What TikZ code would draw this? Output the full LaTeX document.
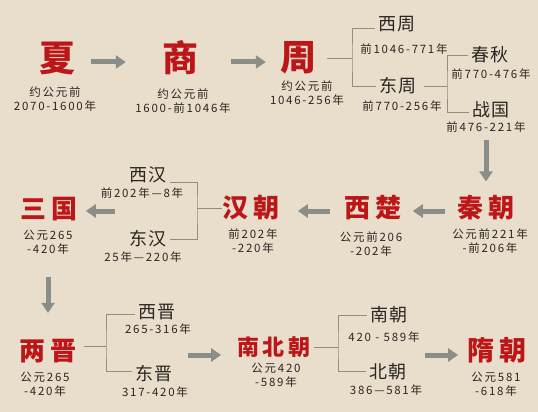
\documentclass[tikz,border=0pt]{standalone}
\usepackage{fontspec}
\usetikzlibrary{arrows.meta}
\newfontfamily\dynfont{Noto Sans CJK SC}
\newfontfamily\brfont[LetterSpace=10]{Noto Sans CJK SC}
\newfontfamily\yrfont[LetterSpace=15]{Noto Sans CJK SC}
\newcommand{\dgap}{\hspace{.2em}}
\definecolor{parchment}{RGB}{233,222,203}
\definecolor{dynred}{RGB}{188,22,24}
\definecolor{ink}{RGB}{42,38,34}
\definecolor{arrowgray}{RGB}{138,142,137}
\definecolor{linegray}{RGB}{150,140,126}

\tikzset{
	dynasty/.style={text=dynred, inner sep=0pt, font=\dynfont\bfseries\fontsize{26}{26}\selectfont},
	bigdyn/.style={dynasty, font=\dynfont\bfseries\fontsize{36}{36}\selectfont},
	branch/.style={text=ink, inner sep=3pt, font=\brfont\fontsize{18}{18}\selectfont},
	years/.style={text=ink, inner sep=0pt, align=center, font=\yrfont\fontsize{11.5}{14.5}\selectfont},
	flow/.style={arrowgray, line width=5pt, -{Triangle[width=13pt,length=10pt]}},
	brline/.style={linegray, line width=0.8pt}
}

\begin{document}
\begin{tikzpicture}[x=1pt,y=-1pt]
	\fill[parchment] (0,0) rectangle (538,412);
	\useasboundingbox (0,0) rectangle (538,412);

	% first row
	\node[bigdyn] (xia) at (57,58) {夏};
	\node[years] (xiayr) at (55,99) {约公元前\\2070-1600年};
	\node[bigdyn] (shang) at (180,58) {商};
	\node[years] (shangyr) at (183,101) {约公元前\\1600-前1046年};
	\node[bigdyn] (zhou) at (298,58) {周};
	\node[years] (zhouyr) at (307,93) {约公元前\\1046-256年};

	\node[branch] (xizhou) at (397,24) {西周};
	\node[years] (xizhouyr) at (404,49) {前1046-771年};
	\node[branch] (dongzhou) at (398,86) {东周};
	\node[years] (dongzhouyr) at (402,106) {前770-256年};
	\node[branch] (chunqiu) at (490,55) {春秋};
	\node[years] (chunqiuyr) at (491,74) {前770-476年};
	\node[branch] (zhanguo) at (491,110) {战国};
	\node[years] (zhanguoyr) at (486,127) {前476-221年};

	\draw[flow, shorten <=16pt, shorten >=36pt] ([yshift=-4pt]xia.east) -- ([yshift=-4pt]shang.west);
	\draw[flow, shorten <=33pt, shorten >=14pt] ([yshift=-4pt]shang.east) -- ([yshift=-4pt]zhou.west);

	\coordinate (zj) at (352,58);
	\coordinate (dj) at (447,86);
	\draw[brline] ([xshift=11pt]zhou.east) -- (zj);
	\draw[brline] ([yshift=-4pt]xizhou.west) -| (zj) |- (dongzhou.west);
	\draw[brline] ([xshift=4pt]dongzhou.east) -- (dj);
	\draw[brline] (chunqiu.west) -| (dj) |- ([yshift=-2pt]zhanguo.west);

	% second row
	\node[dynasty] (qin) at (486,208) {秦\dgap 朝};
	\node[years] (qinyr) at (490,241) {公元前221年\\-前206年};
	\node[dynasty] (xichu) at (373,208) {西\dgap 楚};
	\node[years] (xichuyr) at (371,244) {公元前206\\-202年};
	\node[dynasty] (hanchao) at (251,208) {汉\dgap 朝};
	\node[years] (hanyr) at (253,241) {前202年\\-220年};
	\node[branch] (xihan) at (148,175) {西汉};
	\node[years] (xihanyr) at (142,193) {前202年—8年};
	\node[branch] (donghan) at (148,239) {东汉};
	\node[years] (donghanyr) at (143,257) {25年—220年};
	\node[dynasty] (sanguo) at (49,209) {三\dgap 国};
	\node[years] (sanguoyr) at (48,242) {公元265\\-420年};

	\draw[flow, shorten <=7pt, shorten >=14pt] (zhanguoyr.south -| qin.north) -- (qin.north);
	\draw[flow, shorten <=12pt, shorten >=11pt] ([yshift=-3pt]qin.west) -- ([yshift=-3pt]xichu.east);
	\draw[flow, shorten <=14pt, shorten >=18pt] ([yshift=-3pt]xichu.west) -- ([yshift=-3pt]hanchao.east);

	\coordinate (hj) at (197,208);
	\coordinate (hanout) at (115,211);
	\draw[brline] (hanchao.west) -- (hj);
	\draw[brline] ([yshift=-7pt]xihan.east) -| (hj) |- (donghan.east);
	\draw[flow, shorten >=8pt] (hanout) -- (hanout -| sanguo.east);

	% third row
	\node[dynasty] (liangjin) at (48,351) {两\dgap 晋};
	\node[years] (liangjinyr) at (45,384) {公元265\\-420年};
	\node[branch] (xijin) at (157,312) {西晋};
	\node[years] (xijinyr) at (158,329) {265-316年};
	\node[branch] (dongjin) at (154,374) {东晋};
	\node[years] (dongjinyr) at (155,392) {317-420年};
	\node[dynasty, font=\dynfont\bfseries\fontsize{22}{22}\selectfont] (nanbeichao) at (274,347) {南\,北\,朝};
	\node[years] (nanbeiyr) at (276,375) {公元420\\-589年};
	\node[branch] (nanchao) at (389,315) {南朝};
	\node[years] (nanchaoyr) at (384,337) {420 - 589年};
	\node[branch] (beichao) at (388,372) {北朝};
	\node[years] (beichaoyr) at (386,390) {386—581年};
	\node[dynasty, font=\dynfont\bfseries\fontsize{27}{27}\selectfont] (suichao) at (497,350) {隋\dgap 朝};
	\node[years] (suiyr) at (496,384) {公元581\\-618年};

	\draw[flow, shorten <=22pt, shorten >=26pt] (sanguoyr.south) -- (liangjin.north);

	\coordinate (jj) at (106,346);
	\coordinate (jinout) at (188,355);
	\draw[brline] ([xshift=7pt,yshift=5pt]liangjin.east) -- (jj);
	\draw[brline] ([yshift=-2pt]xijin.west) -| (jj) |- ([yshift=3pt]dongjin.west);
	\draw[flow, shorten >=16pt] (jinout) -- (jinout -| nanbeichao.west);

	\coordinate (nj) at (338,347);
	\coordinate (nbout) at (425,355);
	\draw[brline] ([xshift=3pt]nanbeichao.east) -- (nj);
	\draw[brline] (nanchao.west) -| (nj) |- ([yshift=1pt]beichao.west);
	\draw[flow, shorten >=9pt] (nbout) -- (nbout -| suichao.west);
\end{tikzpicture}
\end{document}
